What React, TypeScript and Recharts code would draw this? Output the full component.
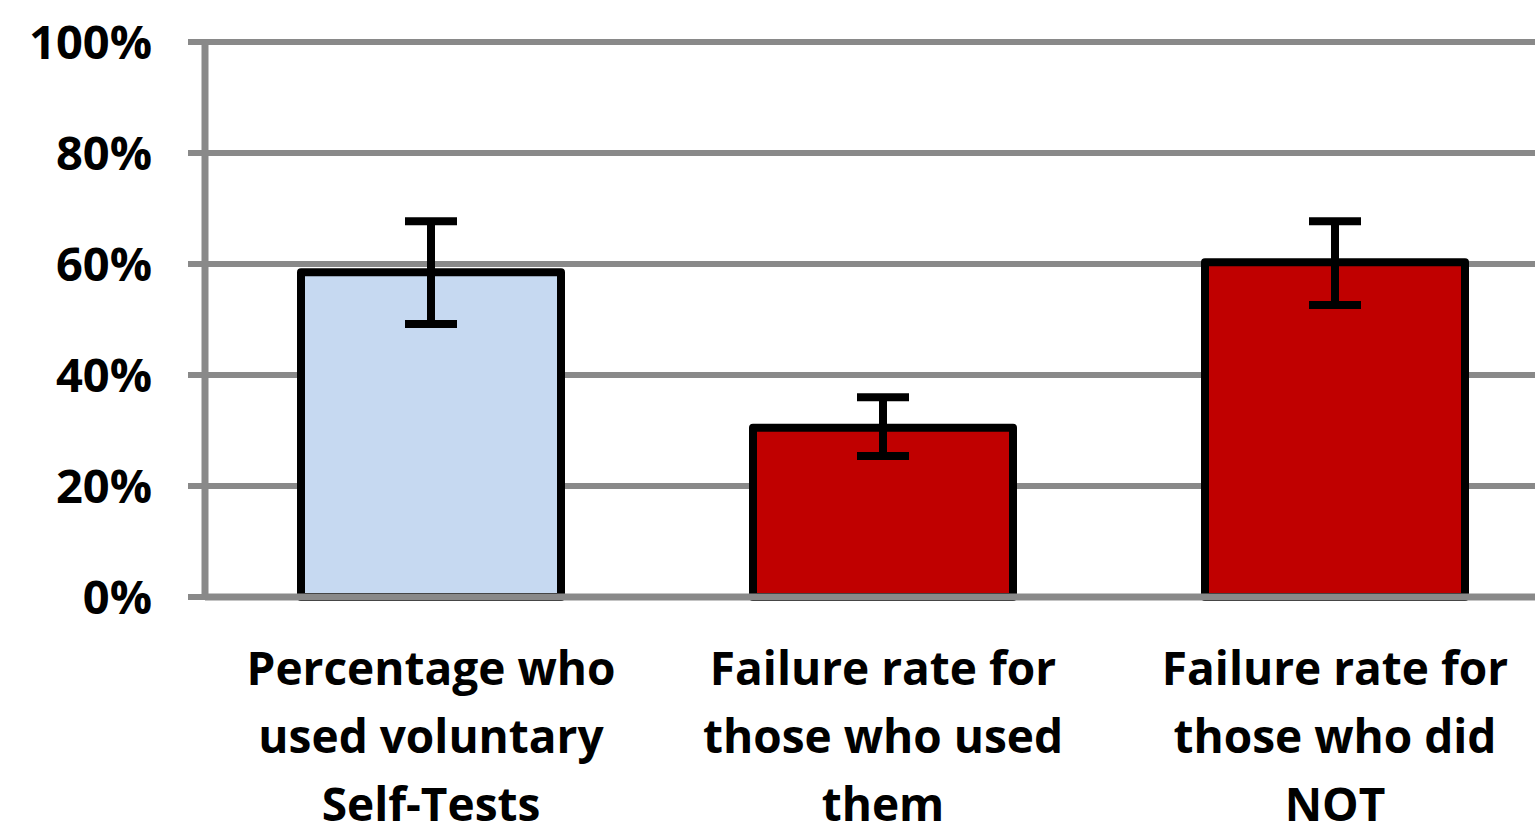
import { BarChart, Bar, XAxis, YAxis, CartesianGrid, ErrorBar, Cell } from "recharts";

const categories = [
  ["Percentage who", "used voluntary", "Self-Tests"],
  ["Failure rate for", "those who used", "them"],
  ["Failure rate for", "those who did", "NOT"],
];
const values = [0.585, 0.305, 0.603];
const errLow = [0.093, 0.051, 0.077];
const errHigh = [0.092, 0.055, 0.074];
const barColors = ["#c6d9f1", "#c00000", "#c00000"];
const yTicks = [0, 0.2, 0.4, 0.6, 0.8, 1];

const data = categories.map((lines, i) => ({
  name: lines.join(" "),
  lines,
  value: values[i],
  err: [errLow[i], errHigh[i]],
}));

const GRID = "#898989";
const FONT = "'Open Sans', Lato, sans-serif";

const CategoryTick = ({ x, y, index }: any) => {
  const lines = categories[index] || [];
  return (
    <g transform={`translate(${x},${y})`}>
      {lines.map((line, i) => (
        <text
          key={i}
          x={0}
          y={80 + i * 68}
          textAnchor="middle"
          fontFamily={FONT}
          fontWeight={700}
          fontSize={46}
          fill="#000"
        >
          {line}
        </text>
      ))}
    </g>
  );
};

const App = () => {
  return (
    <div
      style={{
        position: "fixed",
        left: 0,
        top: 0,
        width: 1535,
        height: 823,
        overflow: "hidden",
        background: "#fff",
      }}
    >
      <BarChart
        width={1561}
        height={900}
        data={data}
        margin={{ top: 42, right: 0, left: 0, bottom: 0 }}
      >
        <CartesianGrid vertical={false} stroke={GRID} strokeWidth={6} />
        <XAxis
          dataKey="name"
          height={303}
          axisLine={{ stroke: GRID, strokeWidth: 7 }}
          tickLine={false}
          tick={<CategoryTick />}
          interval={0}
        />
        <YAxis
          domain={[0, 1]}
          ticks={yTicks}
          width={205}
          tickFormatter={(v: number) => `${Math.round(v * 100)}%`}
          axisLine={{ stroke: GRID, strokeWidth: 7 }}
          tickLine={{ stroke: GRID, strokeWidth: 6 }}
          tickSize={17}
          tickMargin={36}
          tick={{ fill: "#000", fontSize: 47, fontWeight: 700, fontFamily: FONT }}
        />
        <Bar
          dataKey="value"
          barSize={260}
          stroke="#000"
          strokeWidth={8}
          strokeLinejoin="round"
          isAnimationActive={false}
        >
          {data.map((d, i) => (
            <Cell key={d.name} fill={barColors[i]} />
          ))}
          <ErrorBar dataKey="err" width={26} stroke="#000" strokeWidth={8} isAnimationActive={false} />
        </Bar>
      </BarChart>
    </div>
  );
};

export default App;
